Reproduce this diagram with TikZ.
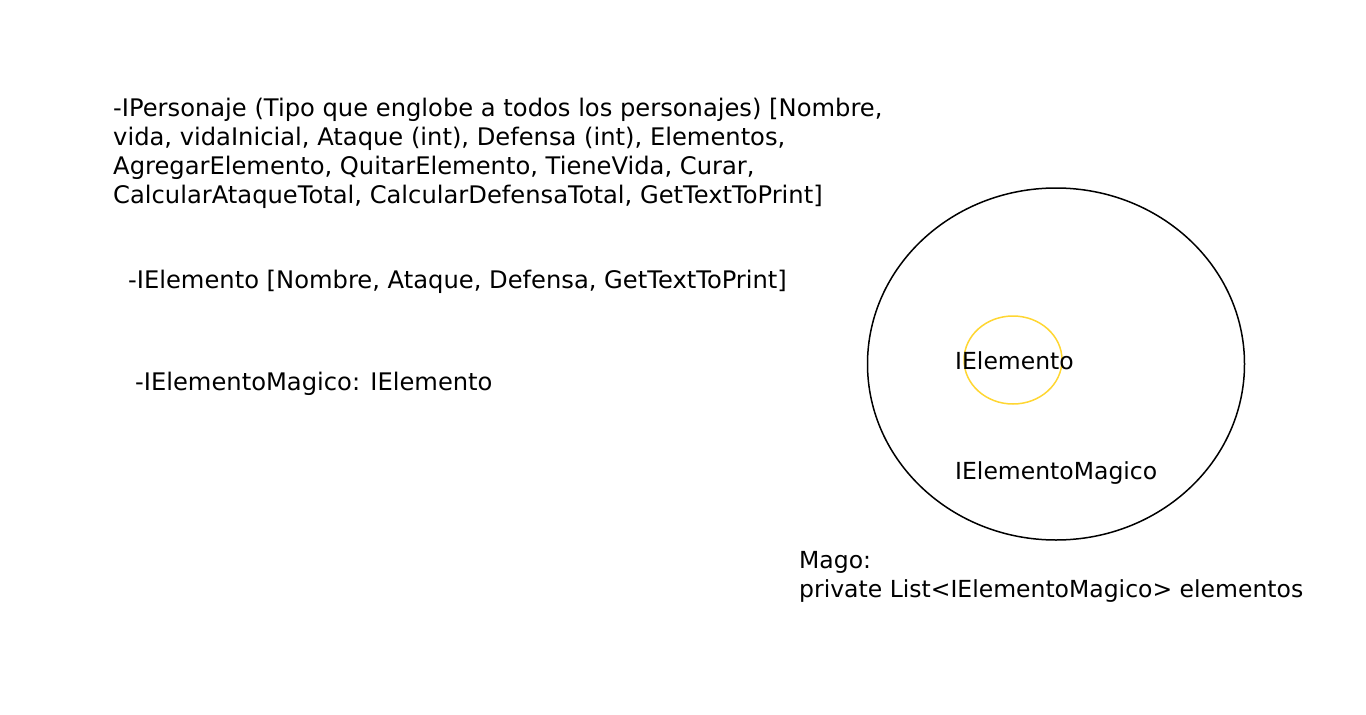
\documentclass[tikz,border=0pt]{standalone}
\usepackage{fontspec}
\setmainfont{DejaVu Sans}
\usepackage{xcolor}
\usepackage{tikz}
\usetikzlibrary{positioning,shapes.geometric}
\definecolor{InnerRing}{RGB}{255,214,50}

\begin{document}
\begin{tikzpicture}[
  x=1pt, y=-1pt,
  note/.style={
    anchor=west,
    align=left,
    inner sep=0pt,
    font=\fontsize{24.2}{29}\selectfont
  },
  tag/.style={
    anchor=west,
    align=left,
    inner sep=0pt,
    font=\fontsize{23.5}{29}\selectfont
  },
  outer/.style={
    ellipse,
    draw=black,
    line width=1.5pt,
    minimum width=377pt,
    minimum height=352pt
  },
  inner/.style={
    ellipse,
    draw=InnerRing,
    line width=1.5pt,
    minimum width=98pt,
    minimum height=88pt
  }
]
\useasboundingbox (0,0) rectangle (1366,715);
\node[note] (personaje) at (113,153) {-IPersonaje (Tipo que englobe a todos los personajes) [Nombre,\\vida, vidaInicial, Ataque (int), Defensa (int), Elementos,\\AgregarElemento, QuitarElemento, TieneVida, Curar,\\CalcularAtaqueTotal, CalcularDefensaTotal, GetTextToPrint]};
\node[note] (elemento) at (128,282) {-IElemento [Nombre, Ataque, Defensa, GetTextToPrint]};
\node[note] (magico) at (135,384) {-IElementoMagico: IElemento};

\node[outer] (mago) at (1056,364) {};
\node[inner] (ring) at (1013,360) {};
\node[tag] (ringtxt) at (955,361) {IElemento};
\node[tag] (magotxt) at (955,473) {IElementoMagico};
\node[tag] (lista) at (799,577) {Mago:\\private List<IElementoMagico> elementos};
\end{tikzpicture}
\end{document}
